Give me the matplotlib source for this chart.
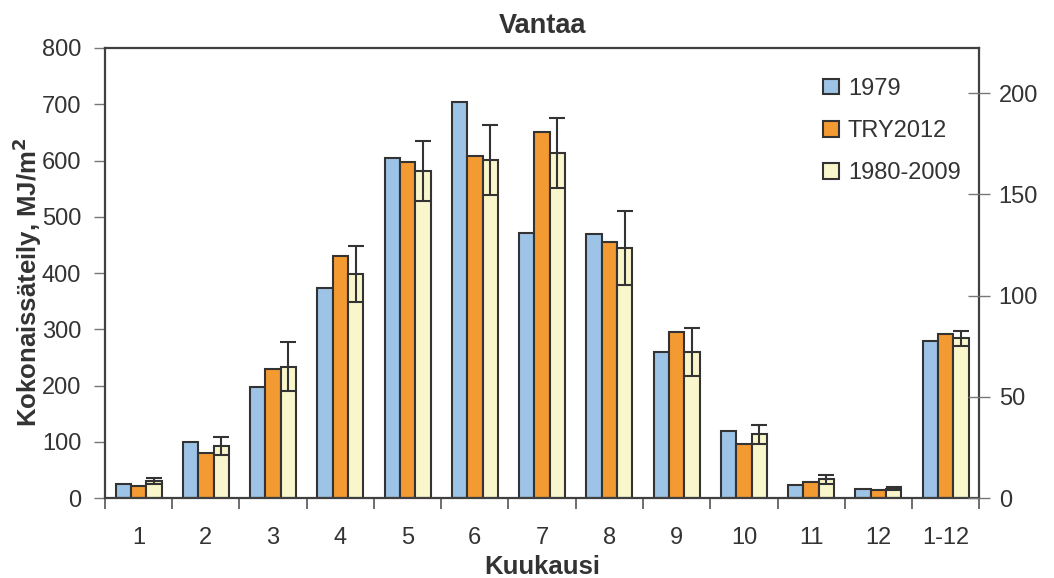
import numpy as np
import matplotlib.pyplot as plt

plt.rcParams['font.family'] = ['Liberation Sans', 'DejaVu Sans']

# Data (MJ/m2)
categories = ['1', '2', '3', '4', '5', '6', '7', '8', '9', '10', '11', '12', '1-12']
val_1979 = [25, 100, 198, 373, 604, 704, 472, 469, 260, 120, 24, 17, 280]
val_try2012 = [21, 81, 230, 430, 597, 608, 651, 455, 295, 97, 28, 14, 291]
val_1980_2009 = [31, 92, 234, 398, 582, 601, 614, 445, 260, 114, 34, 17, 284]
err_1980_2009 = [5, 16, 44, 50, 53, 62, 62, 66, 43, 17, 8, 3, 13]

series_labels = ['1979', 'TRY2012', '1980-2009']
colors = ['#9DC3E6', '#F39A32', '#FAF6CC']
edge = '#333333'
txt = '#333333'

fig = plt.figure(figsize=(10.54, 5.78), dpi=100)
ax = fig.add_axes([0.0996, 0.138, 0.8295, 0.779])

x = np.arange(len(categories))
w = 0.228
for i, (vals, lab, col) in enumerate(zip([val_1979, val_try2012, val_1980_2009],
                                         series_labels, colors)):
    ax.bar(x + (i - 1) * w, vals, width=w, color=col, edgecolor=edge,
           linewidth=1.5, label=lab, zorder=2)

ax.errorbar(x + w, val_1980_2009, yerr=err_1980_2009, fmt='none',
            ecolor='#333333', elinewidth=1.5, capsize=6, capthick=1.5, zorder=3)

ax.set_xlim(-0.5, len(categories) - 0.5)
ax.set_ylim(0, 800)
ax.set_yticks(range(0, 801, 100))
ax.set_xticks(x)
ax.set_xticklabels(categories)
ax.set_xticks(np.arange(-0.5, len(categories), 1), minor=True)
ax.tick_params(axis='x', which='major', length=0, pad=21, labelsize=17, colors=txt)
ax.tick_params(axis='x', which='minor', length=8, width=1.2, color='#555555', direction='out')
ax.tick_params(axis='y', length=8, width=1.0, color='#777777', labelsize=17,
               labelcolor=txt, pad=9)

for s in ax.spines.values():
    s.set_color('#404040')
    s.set_linewidth(1.6)

ax.set_title('Vantaa', fontsize=19.5, fontweight='bold', color=txt, pad=11)
ax.set_xlabel('Kuukausi', fontsize=18.5, fontweight='bold', color=txt)
ax.xaxis.set_label_coords(0.5, -0.127)
ax.xaxis.label.set_va('top')
ax.set_ylabel('Kokonaissäteily, MJ/m$^\\mathbf{2}$', fontsize=18.5, fontweight='bold',
              color=txt)
ax.yaxis.set_label_coords(-0.089, 0.48)
ax.yaxis.label.set_va('center')

# Secondary axis in kWh/m2 (MJ / 3.6)
ax2 = ax.twinx()
ax2.set_ylim(0, 800 / 3.6)
ax2.set_yticks(range(0, 201, 50))
ax2.tick_params(axis='y', direction='inout', length=16, width=1.0, color='#777777',
                labelsize=17, labelcolor=txt, pad=6)
for s in ax2.spines.values():
    s.set_visible(False)

leg = ax.legend(loc='upper right', bbox_to_anchor=(0.995, 0.965), frameon=False,
                fontsize=17, handlelength=0.65, handleheight=0.65,
                labelspacing=0.85, handletextpad=0.4, borderaxespad=0.2)
for t in leg.get_texts():
    t.set_color(txt)

fig.savefig('out.png', dpi=100)
